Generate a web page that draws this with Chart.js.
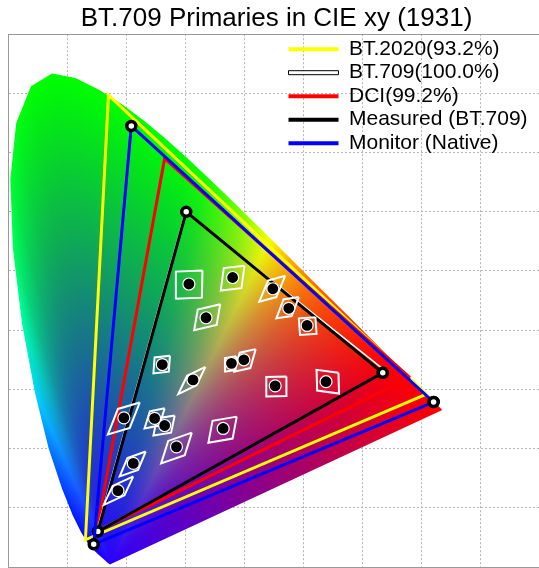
<!DOCTYPE html>
<html>
<head>
<meta charset="utf-8">
<title>BT.709 Primaries in CIE xy (1931)</title>
<script src="https://cdn.jsdelivr.net/npm/chart.js@4.4.1/dist/chart.umd.min.js"></script>
<style>
  html, body { margin: 0; padding: 0; background: #fff; overflow: hidden; }
  #wrap { width: 548px; height: 575px; }
</style>
</head>
<body>
<div id="wrap"><canvas id="cie" width="548" height="575"></canvas></div>
<script>
// CIE 1931 2° spectral locus, 380-700 nm every 5 nm
const locusX = [0.1741, 0.1740, 0.1738, 0.1736, 0.1733, 0.1730, 0.1726, 0.1721, 0.1714, 0.1703,
  0.1689, 0.1669, 0.1644, 0.1611, 0.1566, 0.1510, 0.1440, 0.1355, 0.1241, 0.1096,
  0.0913, 0.0687, 0.0454, 0.0235, 0.0082, 0.0039, 0.0139, 0.0389, 0.0743, 0.1142,
  0.1547, 0.1929, 0.2296, 0.2658, 0.3016, 0.3373, 0.3731, 0.4087, 0.4441, 0.4788,
  0.5125, 0.5448, 0.5752, 0.6029, 0.6270, 0.6482, 0.6658, 0.6801, 0.6915, 0.7006,
  0.7079, 0.7140, 0.7190, 0.7230, 0.7260, 0.7283, 0.7300, 0.7311, 0.7320, 0.7327,
  0.7334, 0.7340, 0.7344, 0.7346, 0.7347];
const locusY = [0.0050, 0.0050, 0.0049, 0.0049, 0.0048, 0.0048, 0.0048, 0.0048, 0.0051, 0.0058,
  0.0069, 0.0086, 0.0109, 0.0138, 0.0177, 0.0227, 0.0297, 0.0399, 0.0578, 0.0868,
  0.1327, 0.2007, 0.2950, 0.4127, 0.5384, 0.6548, 0.7502, 0.8120, 0.8338, 0.8262,
  0.8059, 0.7816, 0.7543, 0.7243, 0.6923, 0.6589, 0.6245, 0.5896, 0.5547, 0.5202,
  0.4866, 0.4544, 0.4242, 0.3965, 0.3725, 0.3514, 0.3340, 0.3197, 0.3083, 0.2993,
  0.2920, 0.2859, 0.2809, 0.2770, 0.2740, 0.2717, 0.2700, 0.2689, 0.2680, 0.2673,
  0.2666, 0.2660, 0.2656, 0.2654, 0.2653];

// primaries: red, green, blue
const bt2020X = [0.708, 0.170, 0.131];
const bt2020Y = [0.292, 0.797, 0.046];
const bt709X = [0.640, 0.300, 0.150];
const bt709Y = [0.330, 0.600, 0.060];
const dciX = [0.680, 0.265, 0.150];
const dciY = [0.320, 0.690, 0.060];
const measuredX = [0.634, 0.3015, 0.152];
const measuredY = [0.328, 0.600, 0.060];
const monitorX = [0.720, 0.2086, 0.145];
const monitorY = [0.2787, 0.745, 0.0383];

const legendNames = ["BT.2020(93.2%)", "BT.709(100.0%)", "DCI(99.2%)", "Measured (BT.709)", "Monitor (Native)"];

// measured patches
const patchX = [0.306, 0.380, 0.448, 0.475, 0.506, 0.335, 0.261, 0.313, 0.378, 0.399,
  0.452, 0.538, 0.196, 0.248, 0.265, 0.285, 0.364, 0.212, 0.186];
const patchY = [0.478, 0.489, 0.470, 0.437, 0.408, 0.421, 0.342, 0.316, 0.344, 0.350,
  0.306, 0.313, 0.252, 0.251, 0.239, 0.203, 0.234, 0.175, 0.129];

// target tolerance boxes: centre and two half diagonals
const boxX = [0.306, 0.380, 0.447, 0.473, 0.507, 0.337, 0.260, 0.311, 0.376, 0.401,
  0.454, 0.541, 0.196, 0.248, 0.264, 0.285, 0.363, 0.211, 0.187];
const boxY = [0.477, 0.488, 0.470, 0.438, 0.407, 0.422, 0.342, 0.315, 0.343, 0.349,
  0.305, 0.313, 0.251, 0.251, 0.239, 0.201, 0.232, 0.174, 0.129];
const boxAx = [0.023, 0.020, 0.022, 0.019, 0.013, 0.022, 0.014, 0.023, 0.010, 0.018,
  0.017, 0.018, 0.027, 0.017, 0.018, 0.026, 0.024, 0.022, 0.025];
const boxAy = [0.024, 0.021, 0.022, 0.018, 0.015, 0.022, 0.015, 0.023, 0.013, 0.019,
  0.017, 0.015, 0.027, 0.017, 0.017, 0.026, 0.022, 0.021, 0.024];
const boxBx = [0.022, 0.015, 0.007, 0.007, 0.015, 0.016, 0.012, 0.008, 0.009, 0.009,
  0.017, 0.019, 0.010, 0.008, 0.012, 0.014, 0.017, 0.009, 0.010];
const boxBy = [-0.022, -0.017, -0.014, -0.014, -0.013, -0.013, -0.012, -0.008, -0.010, -0.013,
  -0.016, -0.020, -0.016, -0.012, -0.012, -0.012, -0.015, -0.010, -0.008];

function toPoints(xs, ys, close) {
  const pts = xs.map((x, i) => ({ x, y: ys[i] }));
  if (close) pts.push({ x: xs[0], y: ys[0] });
  return pts;
}

function boxPoints() {
  const pts = [];
  boxX.forEach((cx, i) => {
    const cy = boxY[i];
    const ax = boxAx[i], ay = boxAy[i], bx = boxBx[i], by = boxBy[i];
    pts.push(
      { x: cx + ax, y: cy + ay },
      { x: cx + bx, y: cy + by },
      { x: cx - ax, y: cy - ay },
      { x: cx - bx, y: cy - by },
      { x: cx + ax, y: cy + ay },
      { x: cx, y: null }
    );
  });
  return pts;
}

// xy -> rgb, clipped and normalised, linear values straight to screen
function xyToRgb(x, y) {
  const X = x / y, Z = (1 - x - y) / y;
  const r = Math.max(0, 3.2406 * X - 1.5372 - 0.4986 * Z);
  const g = Math.max(0, -0.9689 * X + 1.8758 + 0.0415 * Z);
  const b = Math.max(0, 0.0557 * X - 0.2040 + 1.0570 * Z);
  const m = Math.max(r, g, b);
  return [r, g, b].map((c) => 255 * (c / m));
}

// colour field: fan shading from the first locus vertex, like an interpolated patch
let patternCache = null;
function locusPattern(chart) {
  const area = chart.chartArea;
  if (!area || !chart.scales.x) return "rgba(0,0,0,0)";
  const key = [area.left, area.top, area.right, area.bottom].join();
  if (patternCache && patternCache.key === key) return patternCache.pattern;

  const xs = chart.scales.x, ys = chart.scales.y;
  const w = chart.width, h = chart.height;
  const off = document.createElement("canvas");
  off.width = w;
  off.height = h;
  const octx = off.getContext("2d");
  const img = octx.createImageData(w, h);

  const cols = locusX.map((x, i) => xyToRgb(x, locusY[i]));
  const x0 = locusX[0], y0 = locusY[0], c0 = cols[0];
  const last = locusX.length - 1;
  const segs = [];
  for (let i = 1; i < last; i++) {
    const d1 = Math.hypot(locusX[i] - x0, locusY[i] - y0);
    const d2 = Math.hypot(locusX[i + 1] - x0, locusY[i + 1] - y0);
    if (d1 < 0.004 && d2 < 0.004) continue;
    segs.push(i);
  }
  const lastLen = Math.hypot(locusX[last] - x0, locusY[last] - y0);

  const px0 = Math.max(0, Math.floor(area.left) - 1), px1 = Math.min(w, Math.ceil(area.right) + 1);
  const py0 = Math.max(0, Math.floor(area.top) - 1), py1 = Math.min(h, Math.ceil(area.bottom) + 1);
  let hint = 0;
  for (let py = py0; py < py1; py++) {
    const y = ys.getValueForPixel(py + 0.5);
    if (y > 0.86) continue;
    for (let px = px0; px < px1; px++) {
      const x = xs.getValueForPixel(px + 0.5);
      if (x > 0.76) continue;
      const dx = x - x0, dy = y - y0;
      let col = null;
      for (let k = 0; k < segs.length; k++) {
        const i = segs[(k + hint) % segs.length];
        const ax = locusX[i] - x0, ay = locusY[i] - y0;
        const ex = locusX[i + 1] - locusX[i], ey = locusY[i + 1] - locusY[i];
        const den = dx * ey - dy * ex;
        if (den === 0) continue;
        const s = (ax * ey - ay * ex) / den;
        const u = (ax * dy - ay * dx) / den;
        if (u >= 0 && u <= 1 && s > 0) {
          hint = (k + hint) % segs.length;
          const t = Math.min(1, 1 / s);
          const ca = cols[i], cb = cols[i + 1];
          col = [0, 1, 2].map((j) => c0[j] + t * (ca[j] + u * (cb[j] - ca[j]) - c0[j]));
          break;
        }
      }
      if (!col) {
        const t = Math.min(1, Math.hypot(dx, dy) / lastLen);
        col = [0, 1, 2].map((j) => c0[j] + t * (cols[last][j] - c0[j]));
      }
      const o = (py * w + px) * 4;
      img.data[o] = col[0];
      img.data[o + 1] = col[1];
      img.data[o + 2] = col[2];
      img.data[o + 3] = 255;
    }
  }
  octx.putImageData(img, 0, 0);
  const pattern = chart.ctx.createPattern(off, "no-repeat");
  patternCache = { key, pattern };
  return pattern;
}

const vertexStyle = {
  pointRadius: 4.5,
  pointBorderWidth: 3.5,
  pointBackgroundColor: "#ffffff",
  pointBorderColor: "#000000",
  pointHoverRadius: 4.5
};

const framePlugin = {
  id: "frame",
  beforeDatasetsDraw(chart) {
    const { ctx, chartArea } = chart;
    ctx.save();
    ctx.strokeStyle = "#999999";
    ctx.lineWidth = 1;
    ctx.beginPath();
    ctx.moveTo(chartArea.left, Math.round(chartArea.top) + 0.5);
    ctx.lineTo(chartArea.right, Math.round(chartArea.top) + 0.5);
    ctx.stroke();
    ctx.restore();
  }
};

const legendPlacer = {
  id: "legendPlacer",
  afterLayout(chart) {
    const lg = chart.legend, area = chart.chartArea;
    const w = lg.width, h = lg.height;
    lg.left = area.left + 278;
    lg.right = lg.left + w;
    lg.top = area.top + 2;
    lg.bottom = lg.top + h;
  }
};

Chart.defaults.font.family = "'Liberation Sans', Arial, sans-serif";
Chart.defaults.color = "#000000";

new Chart(document.getElementById("cie"), {
  type: "line",
  data: {
    datasets: [
      {
        label: legendNames[0],
        data: toPoints(bt2020X, bt2020Y, true),
        borderColor: "#ffff00",
        borderWidth: 3,
        pointRadius: 0,
        order: 9
      },
      {
        label: legendNames[1],
        data: toPoints(bt709X, bt709Y, true),
        borderColor: "#ffffff",
        borderWidth: 1.5,
        pointRadius: 0,
        order: 7
      },
      {
        label: legendNames[2],
        data: toPoints(dciX, dciY, true),
        borderColor: "#ff0000",
        borderWidth: 3,
        pointRadius: 0,
        order: 8
      },
      {
        label: legendNames[3],
        data: toPoints(measuredX, measuredY, true),
        borderColor: "#000000",
        borderWidth: 3,
        ...vertexStyle,
        order: 6
      },
      {
        label: legendNames[4],
        data: toPoints(monitorX, monitorY, true),
        borderColor: "#0000ff",
        borderWidth: 3,
        ...vertexStyle,
        order: 5
      },
      {
        label: "locus",
        data: toPoints(locusX, locusY, true),
        borderWidth: 0,
        borderColor: "rgba(0,0,0,0)",
        backgroundColor: (ctx) => locusPattern(ctx.chart),
        fill: "shape",
        pointRadius: 0,
        order: 10
      },
      {
        label: "targets",
        data: boxPoints(),
        borderColor: "#ffffff",
        borderWidth: 2,
        pointRadius: 0,
        spanGaps: false,
        order: 4
      },
      {
        label: "patches",
        data: toPoints(patchX, patchY, false),
        showLine: false,
        pointRadius: 6,
        pointBackgroundColor: "#000000",
        pointBorderColor: "#ffffff",
        pointBorderWidth: 1.2,
        order: 3
      }
    ]
  },
  options: {
    responsive: false,
    animation: false,
    layout: { padding: { left: 6, right: 1, top: 0, bottom: 1 } },
    scales: {
      x: {
        type: "linear",
        min: 0,
        max: 0.9,
        ticks: { display: false, stepSize: 0.1 },
        grid: { color: "#b4b4b4", drawTicks: false },
        border: { color: "#999999", dash: [2, 2] }
      },
      y: {
        type: "linear",
        min: 0,
        max: 0.9,
        ticks: { display: false, stepSize: 0.1 },
        grid: { color: "#b4b4b4", drawTicks: false },
        border: { color: "#999999", dash: [2, 2] }
      }
    },
    plugins: {
      title: {
        display: true,
        text: "BT.709 Primaries in CIE xy (1931)",
        font: { size: 26, weight: "normal" },
        padding: { top: 3, bottom: 0 },
        color: "#000000"
      },
      legend: {
        position: "chartArea",
        align: "start",
        labels: {
          boxWidth: 50,
          boxHeight: 4,
          padding: 2.5,
          font: { size: 21 },
          generateLabels: (chart) =>
            chart.data.datasets.slice(0, 5).map((ds, i) => ({
              text: ds.label,
              fillStyle: ds.borderColor,
              strokeStyle: i === 1 ? "#000000" : ds.borderColor,
              lineWidth: i === 1 ? 1 : 0,
              hidden: !chart.isDatasetVisible(i),
              datasetIndex: i
            }))
        }
      },
      tooltip: { enabled: false }
    }
  },
  plugins: [framePlugin, legendPlacer]
});
</script>
</body>
</html>
